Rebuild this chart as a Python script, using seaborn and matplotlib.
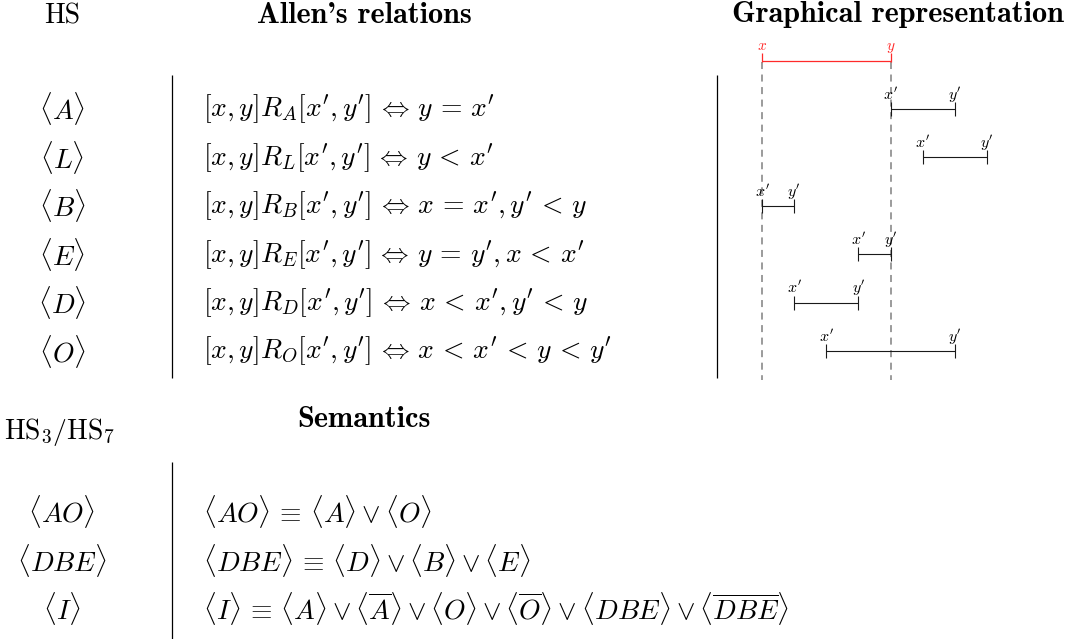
import matplotlib
matplotlib.use("Agg")
import matplotlib.pyplot as plt
import seaborn as sns
import pandas as pd

# table contents
hs_ops = [r"$\langle A\rangle$", r"$\langle L\rangle$", r"$\langle B\rangle$",
          r"$\langle E\rangle$", r"$\langle D\rangle$", r"$\langle O\rangle$"]
allen_rel = [
    r"$[x,y]R_A[x',y'] \,\Leftrightarrow\, y \,=\, x'$",
    r"$[x,y]R_L[x',y'] \,\Leftrightarrow\, y \,<\, x'$",
    r"$[x,y]R_B[x',y'] \,\Leftrightarrow\, x \,=\, x', y' \,<\, y$",
    r"$[x,y]R_E[x',y'] \,\Leftrightarrow\, y \,=\, y', x \,<\, x'$",
    r"$[x,y]R_D[x',y'] \,\Leftrightarrow\, x \,<\, x', y' \,<\, y$",
    r"$[x,y]R_O[x',y'] \,\Leftrightarrow\, x \,<\, x' \,<\, y \,<\, y'$",
]
# interval endpoints of [x', y'] relative to [x, y] = [0, 4]
ref_start, ref_end = 0, 4
int_start = [4, 5, 0, 3, 1, 2]
int_end = [6, 7, 1, 4, 3, 6]

sem_ops = [r"$\langle AO\rangle$", r"$\langle DBE\rangle$", r"$\langle I\rangle$"]
sem_defs = [
    r"$\langle AO\rangle \,\equiv\, \langle A\rangle \vee \langle O\rangle$",
    r"$\langle DBE\rangle \,\equiv\, \langle D\rangle \vee \langle B\rangle \vee \langle E\rangle$",
    r"$\langle I\rangle \,\equiv\, \langle A\rangle \vee \langle\overline{A}\rangle \vee \langle O\rangle"
    r" \vee \langle\overline{O}\rangle \vee \langle DBE\rangle \vee \langle\overline{DBE}\rangle$",
]

sns.set_theme(style="white")
plt.rcParams["mathtext.fontset"] = "cm"
plt.rcParams["font.family"] = ["cmr10", "DejaVu Serif"]
plt.rcParams["axes.unicode_minus"] = False
plt.rcParams["text.color"] = "black"

W, H = 1073, 639
fig = plt.figure(figsize=(W / 100, H / 100), dpi=100)
ax = fig.add_axes([0, 0, 1, 1])
ax.set_xlim(0, W)
ax.set_ylim(H, 0)
ax.axis("off")

bold = ["cmb10", "DejaVu Serif"]
renderer = fig.canvas.get_renderer()


def fit_size(s, target_px, family=None, trial=20.0):
    # font size that makes s about target_px wide
    t = ax.text(0, 0, s, fontsize=trial, fontfamily=family)
    w = t.get_window_extent(renderer=renderer).width
    t.remove()
    return trial * target_px / w


fs = fit_size(allen_rel[0], 292)
fs_head = fit_size("Allen's relations", 215, bold)

row_y0, row_dy = 109, 48.4

# headers
ax.text(62, 23, "HS", ha="center", va="baseline", fontsize=fs)
ax.text(364, 23, "Allen's relations", ha="center", va="baseline",
        fontsize=fs_head, fontfamily=bold)
ax.text(898, 22, "Graphical representation", ha="center", va="baseline",
        fontsize=fs_head, fontfamily=bold)

for i, (op, rel) in enumerate(zip(hs_ops, allen_rel)):
    y = row_y0 + i * row_dy
    ax.text(62, y, op, ha="center", va="center", fontsize=fs)
    ax.text(203, y, rel, ha="left", va="center", fontsize=fs)

ax.vlines([172, 717], 75, 378, color="black", lw=0.9)

# semantics block
ax.text(60, 439, r"$\mathrm{HS}_3/\mathrm{HS}_7$", ha="center", va="baseline", fontsize=fs)
ax.text(364, 427, "Semantics", ha="center", va="baseline",
        fontsize=fs_head, fontfamily=bold)
for i, (op, d) in enumerate(zip(sem_ops, sem_defs)):
    y = 512 + i * row_dy
    ax.text(62, y, op, ha="center", va="center", fontsize=fs)
    ax.text(203, y, d, ha="left", va="center", fontsize=fs)
ax.vlines(172, 462, H, color="black", lw=0.9)

# graphical representation: units of 32.1 px, rows of 48.4 px
unit = 32.1
gx0 = 730
gax = fig.add_axes([gx0 / W, 1 - (row_y0 + 6.0 * row_dy) / H,
                    10 * unit / W, 7.6 * row_dy / H])
gax.set_xlim(-1, 9)
gax.set_ylim(6.0, -1.6)
gax.axis("off")

df = pd.DataFrame({"row": range(len(int_start)), "start": int_start, "end": int_end})

gax.vlines([ref_start, ref_end], -0.97, 5.6, color="#808080", lw=1.1,
           linestyles=(0, (4.6, 3.6)))
gax.hlines(-1, ref_start, ref_end, color="#ff2a2a", lw=0.9)
gax.vlines([ref_start, ref_end], -1.15, -0.97, color="#ff2a2a", lw=0.9)
gax.text(ref_start, -1.22, "$x$", color="#ff2a2a", ha="center", va="baseline", fontsize=11)
gax.text(ref_end, -1.22, "$y$", color="#ff2a2a", ha="center", va="baseline", fontsize=11)

gax.hlines(df["row"], df["start"], df["end"], color="#1a1a1a", lw=0.8)
for _, r in df.iterrows():
    gax.vlines([r["start"], r["end"]], r["row"] - 0.145, r["row"] + 0.145,
               color="#1a1a1a", lw=0.8)
    gax.text(r["start"], r["row"] - 0.19, "$x'$", ha="center", va="baseline", fontsize=11.5)
    gax.text(r["end"], r["row"] - 0.19, "$y'$", ha="center", va="baseline", fontsize=11.5)

fig.savefig("out.png", dpi=100)
